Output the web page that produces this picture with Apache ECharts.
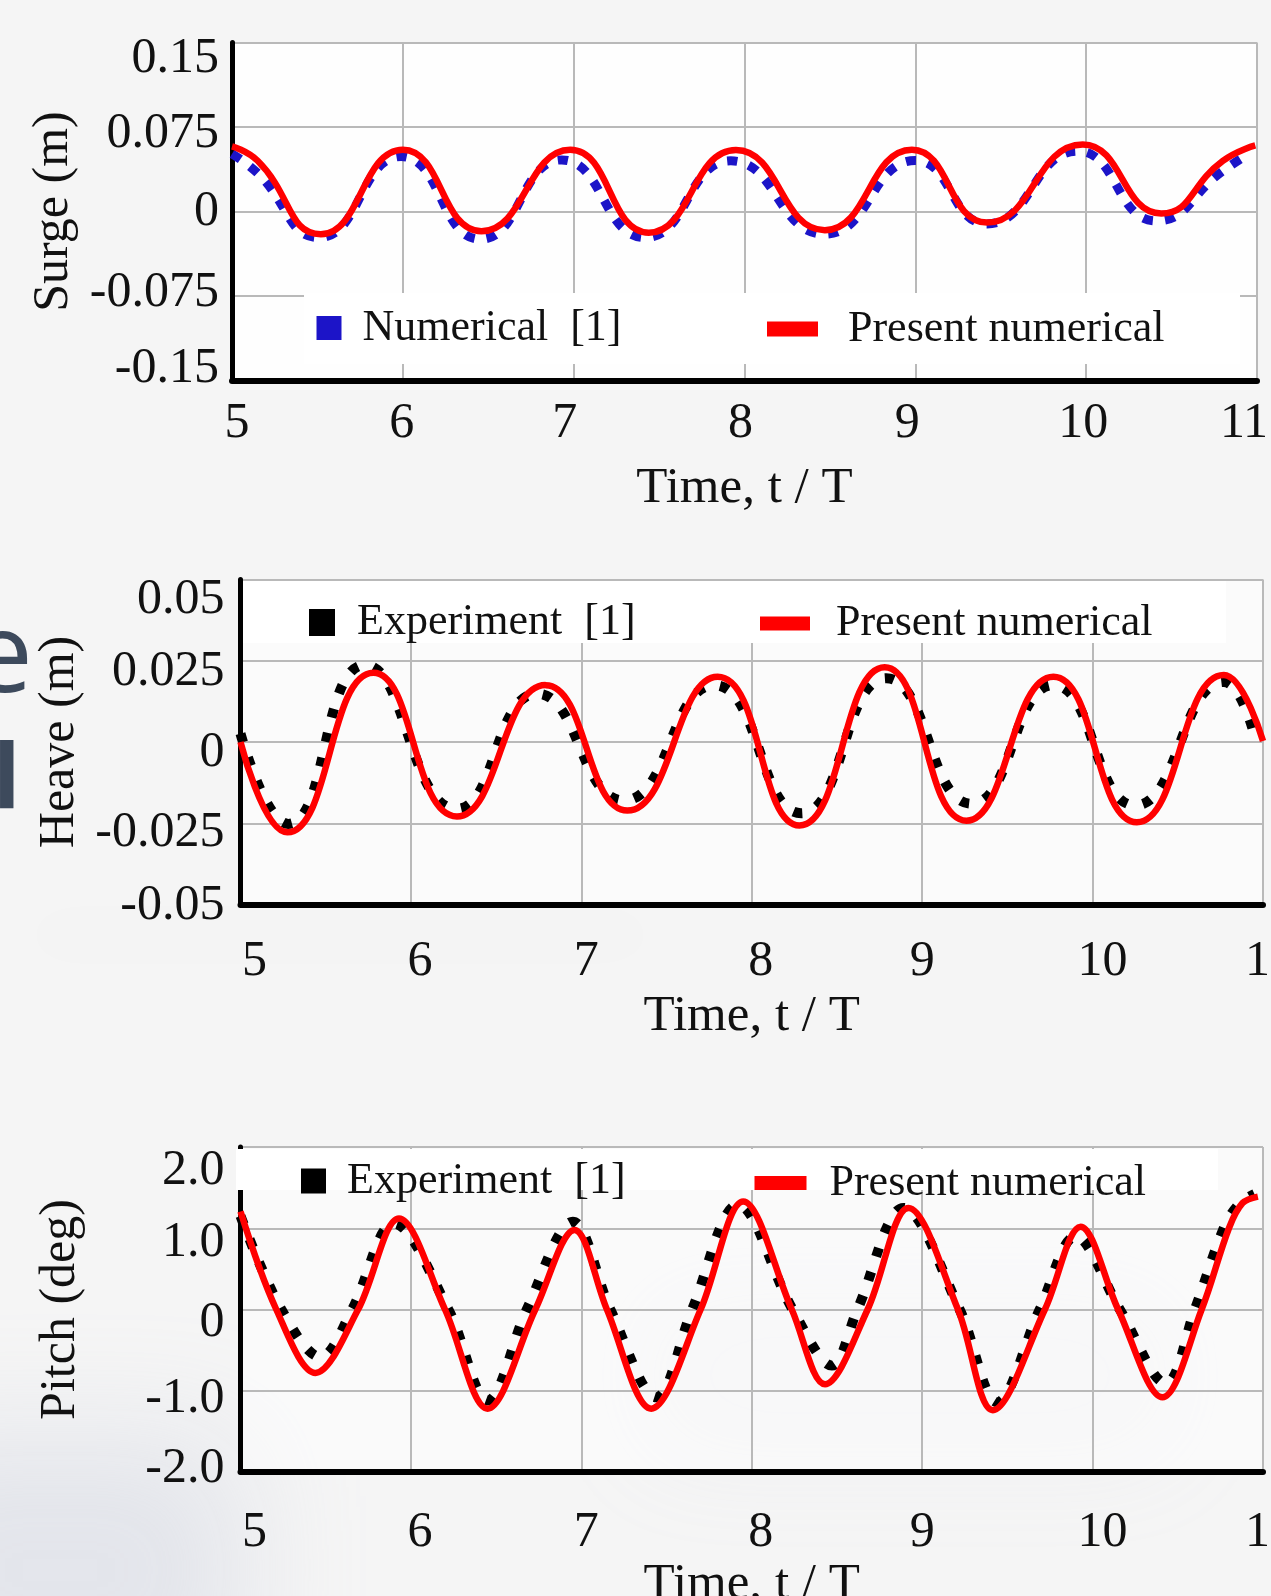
<!DOCTYPE html>
<html>
<head>
<meta charset="utf-8">
<script src="https://cdn.jsdelivr.net/npm/echarts@6/dist/echarts.min.js"></script>
<style>
html,body{margin:0;padding:0;background:#f5f5f5;}
#chart{width:1271px;height:1596px;}
</style>
</head>
<body>
<div id="chart"></div>
<script>
// ---------------- data ----------------
const timeTicks  = ['5','6','7','8','9','10','11'];
const surgeTicks = ['-0.15','-0.075','0','0.075','0.15'];
const heaveTicks = ['-0.05','-0.025','0','0.025','0.05'];
const pitchTicks = ['-2.0','-1.0','0','1.0','2.0'];

const surgeNumerical = [
  [5.00,0.0512],[5.15,0.0340],[5.51,-0.0232],[5.99,0.0488],[6.455,-0.0247],[6.93,0.0458],[7.42,-0.0232],
  [7.92,0.0450],[8.47,-0.0202],[9.00,0.0453],[9.42,-0.0110],[9.95,0.0536],[10.41,-0.0083],
  [10.80,0.0360],[10.96,0.0520]
];
const surgePresent = [
  [5.00,0.0578],[5.15,0.0450],[5.52,-0.0202],[6.00,0.0548],[6.46,-0.0175],[6.98,0.0548],[7.44,-0.0188],
  [7.95,0.0545],[8.47,-0.0166],[8.98,0.0548],[9.42,-0.0098],[9.98,0.0595],[10.44,-0.0018],
  [10.80,0.0450],[10.99,0.0587]
];
const heaveExperiment = [
  [5.00,0.0026],[5.28,-0.0252],[5.73,0.0237],[6.27,-0.0206],[6.74,0.0149],[7.25,-0.0180],
  [7.78,0.0175],[8.29,-0.0219],[8.79,0.0196],[9.29,-0.0190],[9.77,0.0175],[10.25,-0.0195],
  [10.77,0.0185],[10.95,0.0020]
];
const heavePresent = [
  [5.00,0.0000],[5.275,-0.0278],[5.78,0.0213],[6.27,-0.0229],[6.79,0.0175],[7.27,-0.0211],
  [7.80,0.0201],[8.28,-0.0257],[8.78,0.0230],[9.26,-0.0242],[9.77,0.0201],[10.26,-0.0247],
  [10.77,0.0206],[11.00,0.0003]
];
const pitchExperiment = [
  [5.00,1.15],[5.24,0],[5.47,-0.585],[5.655,0],[5.90,1.06],[6.22,0],[6.45,-1.12],[6.68,0],
  [6.95,1.08],[7.17,0],[7.44,-1.08],[7.65,0],[7.92,1.29],[8.24,0],[8.47,-0.69],[8.62,0],
  [8.89,1.25],[9.22,0],[9.44,-1.14],[9.69,0],[9.90,0.90],[10.16,0],[10.43,-0.91],[10.60,0],
  [10.77,1.00],[10.86,1.30],[10.95,1.42]
];
const pitchPresent = [
  [5.00,1.205],[5.21,0],[5.44,-0.78],[5.69,0],[5.93,1.12],[6.20,0],[6.45,-1.22],[6.73,0],
  [6.96,0.98],[7.15,0],[7.41,-1.22],[7.70,0],[7.95,1.33],[8.235,0],[8.43,-0.92],[8.68,0],
  [8.92,1.25],[9.21,0],[9.415,-1.24],[9.72,0],[9.93,1.02],[10.15,0],[10.41,-1.08],[10.64,0],
  [10.80,1.00],[10.88,1.31],[10.97,1.39]
];

// ---------------- styles ----------------
const SERIF = '"Liberation Serif","Times New Roman",Times,serif';
const GRIDC = '#b9b9b9';
const TICK_FS = 50;
// per-label nudges (px) copied from the picture's label placement
const surgeYShift = [-12,-3,0,7,16];
const heaveYShift = [1,10,11,11,20];
const pitchYShift = [-3,8,13,15,24];
const surgeXShift = [5,-1,-9,-4,-8,-3,-13];
const lowerXShift = [14,9,5,9,0,10,6];

function richFor(shifts, horizontal) {
  const rich = {};
  shifts.forEach(function (s, i) {
    let p;
    if (horizontal) p = s >= 0 ? [0,0,0,2*s] : [0,-2*s,0,0];
    else p = s >= 0 ? [2*s,0,0,0] : [0,0,-2*s,0];
    rich['t' + i] = {fontFamily: SERIF, fontSize: TICK_FS, color: '#111', padding: p};
  });
  return rich;
}

function xAxisCfg(gi, shifts, margin, nameGap) {
  return {
    type: 'value', gridIndex: gi, min: 5, max: 11, interval: 1,
    name: 'Time, t / T', nameLocation: 'middle', nameGap: nameGap,
    nameTextStyle: {fontFamily: SERIF, fontSize: 51, color: '#111'},
    axisLine: {show: true, onZero: false, lineStyle: {color: '#000', width: 6}},
    axisTick: {show: false},
    splitLine: {show: true, lineStyle: {color: GRIDC, width: 2}},
    axisLabel: {
      margin: margin, fontFamily: SERIF, fontSize: TICK_FS, color: '#111',
      showMinLabel: true, showMaxLabel: true,
      formatter: function (v) { const i = Math.round(v - 5); return '{t' + i + '|' + timeTicks[i] + '}'; },
      rich: richFor(shifts, true)
    }
  };
}

function yAxisCfg(gi, name, min, max, step, ticks, shifts, margin, nameGap) {
  return {
    type: 'value', gridIndex: gi, min: min, max: max, interval: step,
    name: name, nameLocation: 'middle', nameGap: nameGap,
    nameTextStyle: {fontFamily: SERIF, fontSize: 50, color: '#111'},
    axisLine: {show: true, onZero: false, lineStyle: {color: '#000', width: 5}},
    axisTick: {show: false},
    splitLine: {show: true, lineStyle: {color: GRIDC, width: 2}},
    axisLabel: {
      margin: margin, fontFamily: SERIF, fontSize: TICK_FS, color: '#111',
      showMinLabel: true, showMaxLabel: true,
      formatter: function (v) { const i = Math.round((v - min) / step); return '{t' + i + '|' + ticks[i] + '}'; },
      rich: richFor(shifts, false)
    }
  };
}

function legendCfg(name, left, top, w, h, pad) {
  return {
    data: [name], left: left, top: top, padding: 0, orient: 'horizontal',
    itemWidth: w, itemHeight: h, icon: 'rect', selectedMode: false,
    itemStyle: {borderWidth: 0},
    textStyle: {fontFamily: SERIF, fontSize: 44, color: '#111', padding: [0,0,0,pad]}
  };
}

function lineSeries(name, xi, data, color, width, dash, smooth, z) {
  return {
    type: 'line', name: name, xAxisIndex: xi, yAxisIndex: xi, data: data,
    showSymbol: false, smooth: smooth, z: z,
    itemStyle: {color: color},
    lineStyle: {color: color, width: width, type: dash, cap: 'butt'}
  };
}

// soft blurred background patch: the shape sits off-canvas, only its blurred shadow shows
function blob(x, y, w, h, color, blur) {
  return {type: 'rect', silent: true, z: -10,
    shape: {x: x - 4000, y: y, width: w, height: h},
    style: {fill: color, shadowColor: color, shadowBlur: blur, shadowOffsetX: 4000}};
}

const chart = echarts.init(document.getElementById('chart'), null, {renderer: 'canvas'});
chart.setOption({
  animation: false,
  backgroundColor: '#f5f5f5',
  grid: [
    {left: 232, top: 42.5, width: 1025, height: 338, show: true, backgroundColor: 'rgba(255,255,255,0.9)', borderWidth: 0, containLabel: false, outerBoundsMode: 'none'},
    {left: 240.5, top: 579.5, width: 1022.5, height: 325, show: true, backgroundColor: 'rgba(255,255,255,0.55)', borderWidth: 0, containLabel: false, outerBoundsMode: 'none'},
    {left: 240.5, top: 1147, width: 1022.5, height: 325, show: true, backgroundColor: 'rgba(255,255,255,0.5)', borderWidth: 0, containLabel: false, outerBoundsMode: 'none'}
  ],
  xAxis: [
    xAxisCfg(0, surgeXShift, 18, 82.5),
    xAxisCfg(1, lowerXShift, 32, 86.5),
    xAxisCfg(2, lowerXShift, 36, 84.5)
  ],
  yAxis: [
    yAxisCfg(0, 'Surge (m)', -0.15, 0.15, 0.075, surgeTicks, surgeYShift, 13, 151),
    yAxisCfg(1, 'Heave (m)', -0.05, 0.05, 0.025, heaveTicks, heaveYShift, 16, 156),
    yAxisCfg(2, 'Pitch (deg)', -2, 2, 1, pitchTicks, pitchYShift, 16, 155)
  ],
  legend: [
    legendCfg('Numerical  [1]', 316.5, 306, 25, 24, 16),
    legendCfg('Present numerical', 767, 307, 51, 15, 25),
    legendCfg('Experiment  [1]', 309, 600.5, 26, 27, 17),
    legendCfg('Present numerical', 760, 601.5, 50, 14, 21),
    legendCfg('Experiment  [1]', 301, 1159, 25, 25, 16),
    legendCfg('Present numerical', 754.5, 1161, 52, 14, 18)
  ],
  graphic: [
    blob(880, 40, 90, 340, 'rgba(0,0,0,0.05)', 70),
    blob(860, 420, 110, 720, 'rgba(0,0,0,0.07)', 90),
    blob(20, 905, 640, 60, 'rgba(0,0,0,0.09)', 60),
    blob(-120, 1440, 360, 260, 'rgba(185,193,212,0.55)', 120),
    blob(650, 1300, 520, 150, 'rgba(195,201,220,0.35)', 110),
    {type: 'rect', silent: true, z: 1, shape: {x: 304, y: 293, width: 936, height: 71}, style: {fill: '#ffffff'}},
    {type: 'rect', silent: true, z: 1, shape: {x: 243, y: 581, width: 983, height: 62}, style: {fill: '#ffffff'}},
    {type: 'rect', silent: true, z: 1, shape: {x: 236, y: 1149, width: 982, height: 41}, style: {fill: '#ffffff'}},
    {type: 'text', silent: true, z: 5, x: -30, y: 660,
      style: {text: 'e', font: '112px "Open Sans"', fill: '#3d4a5c', verticalAlign: 'middle', align: 'left'}},
    {type: 'text', silent: true, z: 5, x: -7, y: 782,
      style: {text: 'l', font: 'bold 90px "Open Sans"', fill: '#3d4a5c', verticalAlign: 'middle', align: 'left'}}
  ],
  series: [
    lineSeries('Numerical  [1]', 0, surgeNumerical, '#1c14c8', 9, [10, 12], 0.5, 2),
    lineSeries('Present numerical', 0, surgePresent, '#ff0000', 6.5, 'solid', 0.5, 3),
    lineSeries('Experiment  [1]', 1, heaveExperiment, '#000000', 10, [9, 16], 0.5, 2),
    lineSeries('Present numerical', 1, heavePresent, '#ff0000', 6.5, 'solid', 0.5, 3),
    lineSeries('Experiment  [1]', 2, pitchExperiment, '#000000', 10, [9, 16], 0.35, 2),
    lineSeries('Present numerical', 2, pitchPresent, '#ff0000', 6.5, 'solid', 0.35, 3)
  ]
});
</script>
</body>
</html>
